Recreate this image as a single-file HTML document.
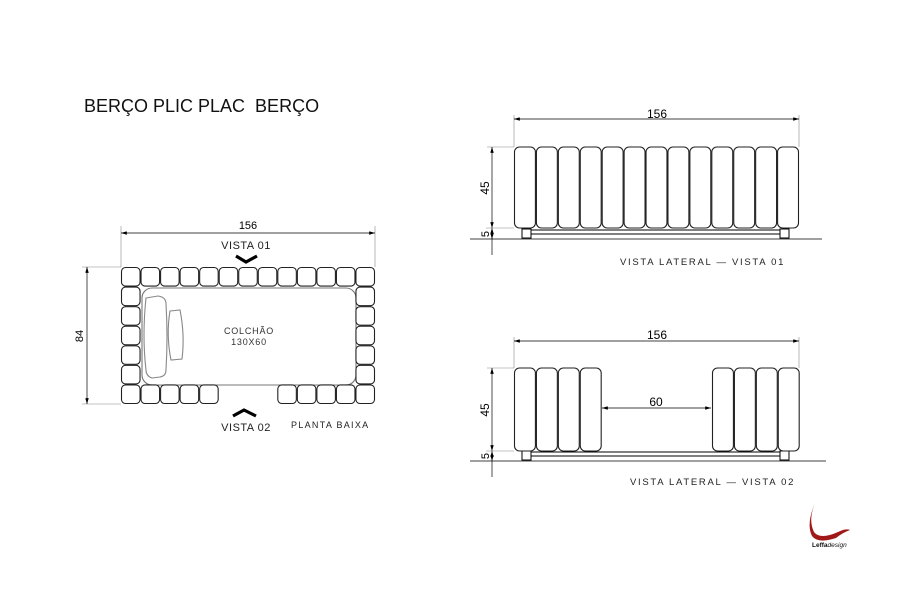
<!DOCTYPE html>
<html><head><meta charset="utf-8"><style>
body{margin:0;background:#fff;width:900px;height:600px;overflow:hidden;font-family:"Liberation Sans",sans-serif}
</style></head><body>
<svg width="900" height="600" viewBox="0 0 900 600" xmlns="http://www.w3.org/2000/svg" font-family="Liberation Sans, sans-serif">
<defs>
<marker id="a" viewBox="0 0 10 6" refX="10" refY="3" markerWidth="9" markerHeight="5" orient="auto-start-reverse"><path d="M0,0L10,3L0,6z" fill="#000"/></marker>
</defs>
<text x="84" y="112" font-size="18" fill="#111">BERÇO PLIC PLAC&#160; BERÇO</text>

<!-- PLAN -->
<g stroke="#333" fill="none" stroke-width="1.1">
<line x1="121" y1="226" x2="121" y2="267" stroke="#888" stroke-width=".6"/>
<line x1="375" y1="226" x2="375" y2="267" stroke="#888" stroke-width=".6"/>
<line x1="121" y1="233" x2="375" y2="233" stroke="#000" stroke-width=".7" marker-start="url(#a)" marker-end="url(#a)"/>
<line x1="82" y1="267" x2="121" y2="267" stroke="#888" stroke-width=".6"/>
<line x1="82" y1="404" x2="121" y2="404" stroke="#888" stroke-width=".6"/>
<line x1="87" y1="267" x2="87" y2="404" stroke="#000" stroke-width=".7" marker-start="url(#a)" marker-end="url(#a)"/>
<rect x="142" y="288" width="214" height="97" rx="10" stroke="#777"/>
<path d="M146,298 L158,296 Q166,297 166,304 Q168,336 166,370 Q166,376 160,377 L152,378 Q146,376 146,370 Q142,336 146,298z" stroke="#888"/>
<path d="M170,311 L180,310 Q185,335 182,359 L171,360 Q166,335 170,311z" stroke="#888"/>
</g>
<g stroke="#222" fill="#fff" stroke-width="1.1" id="plan"></g>
<g fill="none" stroke="#000" stroke-width="3.2">
<polyline points="236,256 246,262 257,256"/>
<polyline points="233,416 244,410 256,416"/>
</g>
<text x="248" y="229" font-size="11" text-anchor="middle">156</text>
<text x="246" y="249" font-size="11" text-anchor="middle" fill="#222" letter-spacing=".5">VISTA 01</text>
<text x="246" y="431" font-size="11" text-anchor="middle" fill="#222" letter-spacing=".5">VISTA 02</text>
<text x="291" y="428" font-size="9" letter-spacing="1.3" fill="#222">PLANTA BAIXA</text>
<text x="249" y="334" font-size="9" text-anchor="middle" letter-spacing=".8" fill="#333">COLCHÃO</text>
<text x="249" y="345" font-size="9" text-anchor="middle" letter-spacing=".8" fill="#333">130X60</text>
<text transform="translate(83,336) rotate(-90)" font-size="11" text-anchor="middle">84</text>

<!-- VIEW 1 -->
<g stroke="#000" stroke-width=".7" fill="none">
<line x1="514" y1="115" x2="514" y2="147" stroke="#888" stroke-width=".6"/>
<line x1="799" y1="115" x2="799" y2="147" stroke="#888" stroke-width=".6"/>
<line x1="514" y1="119" x2="799" y2="119" marker-start="url(#a)" marker-end="url(#a)"/>
<line x1="487" y1="147" x2="514" y2="147" stroke="#888" stroke-width=".6"/>
<line x1="492" y1="147" x2="492" y2="228" marker-start="url(#a)" marker-end="url(#a)"/>
<line x1="492" y1="228" x2="492" y2="239" marker-start="url(#a)" marker-end="url(#a)"/>
<line x1="492" y1="239" x2="492" y2="255"/>
<line x1="486" y1="228" x2="514" y2="228" stroke="#888" stroke-width=".6"/>
<line x1="470" y1="239" x2="822" y2="239" stroke-width=".8"/>
<rect x="531" y="230" width="249" height="4" stroke-width="1"/>
<rect x="522" y="229" width="9" height="9" stroke-width="1" fill="#fff"/>
<rect x="780" y="229" width="9" height="9" stroke-width="1" fill="#fff"/>
</g>
<g id="v1" stroke="#222" fill="#fff" stroke-width="1.1"></g>
<text x="657" y="118" font-size="12" text-anchor="middle">156</text>
<text transform="translate(489,188) rotate(-90)" font-size="12" text-anchor="middle">45</text>
<text transform="translate(489,234) rotate(-90)" font-size="11" text-anchor="middle">5</text>
<text x="620" y="265" font-size="9.5" letter-spacing="1.7" fill="#222">VISTA LATERAL — VISTA 01</text>

<!-- VIEW 2 -->
<g stroke="#000" stroke-width=".7" fill="none">
<line x1="514" y1="337" x2="514" y2="368" stroke="#888" stroke-width=".6"/>
<line x1="799" y1="337" x2="799" y2="368" stroke="#888" stroke-width=".6"/>
<line x1="514" y1="341" x2="799" y2="341" marker-start="url(#a)" marker-end="url(#a)"/>
<line x1="487" y1="368" x2="514" y2="368" stroke="#888" stroke-width=".6"/>
<line x1="492" y1="368" x2="492" y2="451" marker-start="url(#a)" marker-end="url(#a)"/>
<line x1="492" y1="451" x2="492" y2="461" marker-start="url(#a)" marker-end="url(#a)"/>
<line x1="492" y1="461" x2="492" y2="477"/>
<line x1="486" y1="451" x2="514" y2="451" stroke="#888" stroke-width=".6"/>
<line x1="470" y1="461" x2="826" y2="461" stroke-width=".8"/>
<line x1="602" y1="408" x2="711" y2="408" marker-start="url(#a)" marker-end="url(#a)"/>
<rect x="531" y="452" width="249" height="4" stroke-width="1"/>
<rect x="522" y="451" width="9" height="9" stroke-width="1" fill="#fff"/>
<rect x="780" y="451" width="9" height="9" stroke-width="1" fill="#fff"/>
</g>
<g id="v2" stroke="#222" fill="#fff" stroke-width="1.1"></g>
<text x="657" y="339" font-size="12" text-anchor="middle">156</text>
<text x="656" y="406" font-size="12" text-anchor="middle">60</text>
<text transform="translate(489,410) rotate(-90)" font-size="12" text-anchor="middle">45</text>
<text transform="translate(489,456) rotate(-90)" font-size="11" text-anchor="middle">5</text>
<text x="630" y="485" font-size="9.5" letter-spacing="1.7" fill="#222">VISTA LATERAL — VISTA 02</text>

<!-- logo -->
<path d="M815,503 Q808,520 814,532 Q820,540 838,532 Q846,528 850,530 Q842,533 836,538 Q818,544 812,536 Q806,524 815,503z" fill="#a01818"/>
<text x="812" y="547" font-size="6.5" font-weight="bold" fill="#111">Leffa<tspan font-weight="normal" font-style="italic">design</tspan></text>
</svg>
<script>
var ns="http://www.w3.org/2000/svg";
function r(g,x,y,w,h,rx){var e=document.createElementNS(ns,"rect");e.setAttribute("x",x);e.setAttribute("y",y);e.setAttribute("width",w);e.setAttribute("height",h);e.setAttribute("rx",rx);document.getElementById(g).appendChild(e);}
var cw=254/13,ch=137/7;
for(var i=0;i<13;i++){r("plan",121+i*cw+.5,267.5,cw-1,ch-1,4);
 if(i<5||i>7)r("plan",121+i*cw+.5,404-ch+.5,cw-1,ch-1,4);}
for(var j=1;j<6;j++){r("plan",121.5,267+j*ch+.5,cw-1,ch-1,4);r("plan",375-cw+.5,267+j*ch+.5,cw-1,ch-1,4);}
var w=285/13;
for(var i=0;i<13;i++)r("v1",514+i*w+.5,147,w-1,81,5);
for(var i=0;i<4;i++){r("v2",514+i*w+.5,368,w-1,83,5);r("v2",712+i*w+.5,368,w-1,83,5);}
</script>
</body></html>
